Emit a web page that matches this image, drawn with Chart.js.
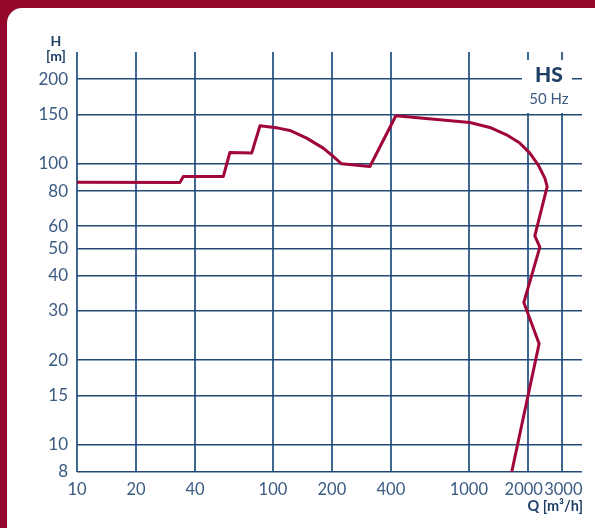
<!DOCTYPE html>
<html><head><meta charset="utf-8">
<script src="https://cdn.jsdelivr.net/npm/chart.js@4"></script>
<style>
html,body{margin:0;padding:0;background:#94072b;width:595px;height:528px;overflow:hidden}
#card{position:absolute;left:7px;top:8px;width:600px;height:540px;background:#fff;border-top-left-radius:15px}
#c{position:absolute;left:0;top:0}
</style></head><body>
<div id="card"></div>
<canvas id="c" width="595" height="528"></canvas>
<script>
const flowQ = [10, 33.5, 34.9, 55.8, 60.3, 77.9, 85.9, 106.4, 122.1, 148.6, 180.6, 203.1, 224, 312.6, 424, 1012, 1280, 1557, 1820, 2048, 2257, 2443, 2510, 2171, 2303, 1908, 2284, 1655];
const headH = [86, 85.8, 90.1, 90.1, 109.7, 109.2, 136.6, 134.0, 131.4, 123.4, 113.7, 106.2, 100, 97.8, 148.2, 140.3, 134.7, 126.8, 118.5, 109.2, 99.2, 88.9, 83.0, 55.4, 50.5, 32.1, 22.9, 8];
const xTicks = [10, 20, 40, 100, 200, 400, 1000, 2000, 3000];
const yTicks = [8, 10, 15, 20, 30, 40, 50, 60, 80, 100, 150, 200];

const labelColor = '#3a5a82';
const boldColor = '#1f3f66';
const FONT = 'Lato, "Open Sans", sans-serif';

const overlay = {
  id: 'overlay',
  afterDraw(chart) {
    const ctx = chart.ctx;
    ctx.save();
    ctx.fillStyle = '#fff';
    ctx.fillRect(522, 60, 50, 53);
    ctx.textAlign = 'center';
    ctx.textBaseline = 'alphabetic';
    ctx.fillStyle = boldColor;
    ctx.font = '900 21px ' + FONT;
    ctx.fillText('HS', 549, 82);
    ctx.fillStyle = labelColor;
    ctx.font = '15px ' + FONT;
    ctx.fillText('50 Hz', 549, 104);
    ctx.fillStyle = boldColor;
    ctx.font = 'bold 14px ' + FONT;
    ctx.fillText('H', 56, 46);
    ctx.fillText('[m]', 56, 61);
    ctx.font = 'bold 14.5px ' + FONT;
    ctx.textAlign = 'right';
    ctx.fillText('Q [m³/h]', 583, 511);
    ctx.restore();
  }
};

new Chart(document.getElementById('c'), {
  type: 'scatter',
  data: {
    datasets: [{
      data: flowQ.map((q, i) => ({x: q, y: headH[i]})),
      showLine: true,
      borderColor: '#a0063a',
      borderWidth: 3,
      pointRadius: 0,
      tension: 0,
      borderJoinStyle: 'round'
    }]
  },
  options: {
    responsive: false,
    animation: false,
    devicePixelRatio: 1,
    layout: {padding: {top: 52, right: 13, left: 0, bottom: 0}},
    plugins: {legend: {display: false}, tooltip: {enabled: false}},
    scales: {
      x: {
        type: 'logarithmic',
        min: 10, max: 3780,
        afterBuildTicks: s => { s.ticks = xTicks.map(v => ({value: v})); },
        afterFit: s => { s.height = 56; },
        border: {display: false},
        grid: {color: '#3f6890', lineWidth: 2, drawTicks: false},
        ticks: {autoSkip: false, maxRotation: 0, padding: 8, color: labelColor,
                font: {family: FONT, size: 16.5},
                callback: v => v === 2000 ? '2000\u2002' : (v === 3000 ? '\u2009' + v : String(v))}
      },
      y: {
        type: 'logarithmic',
        min: 8, max: 250,
        afterBuildTicks: s => { s.ticks = yTicks.map(v => ({value: v})); },
        afterFit: s => { s.width = 77; },
        border: {display: false},
        grid: {color: '#234a74', lineWidth: 1.5, drawTicks: false},
        ticks: {autoSkip: false, padding: 9, color: labelColor,
                font: {family: FONT, size: 17}, callback: v => String(v)}
      }
    }
  },
  plugins: [overlay]
});
</script>
</body></html>
